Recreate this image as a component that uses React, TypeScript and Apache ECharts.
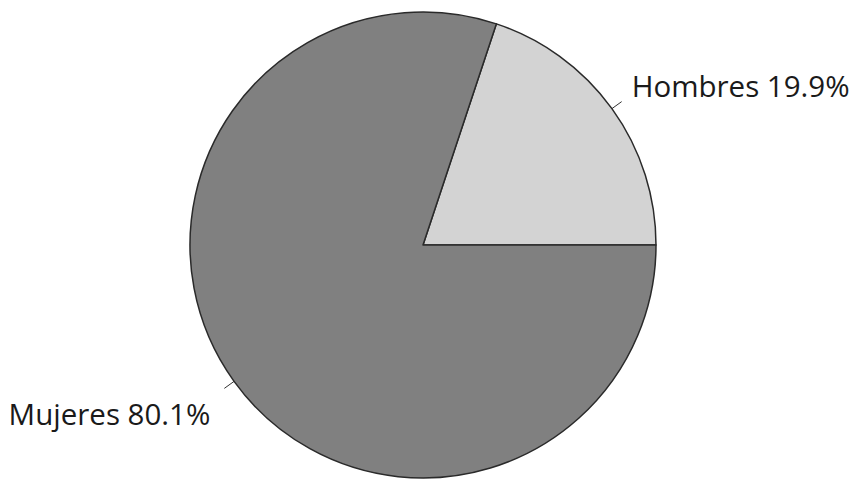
import React, { useEffect, useRef } from "react";
import * as echarts from "echarts";

const categories = ["Hombres", "Mujeres"];
const values = [19.9, 80.1];
const colors = ["#d3d3d3", "#808080"];

export default function App() {
  const ref = useRef<HTMLDivElement>(null);
  useEffect(() => {
    if (!ref.current) return;
    const chart = echarts.init(ref.current, null, { renderer: "svg" });
    const gaps = [10, 14];
    chart.setOption({
      animation: false,
      backgroundColor: "#ffffff",
      series: [
        {
          type: "pie",
          center: [423, 245],
          radius: 233,
          startAngle: 0,
          clockwise: false,
          avoidLabelOverlap: false,
          itemStyle: { borderColor: "#2a2a2a", borderWidth: 1.5 },
          label: {
            show: true,
            position: "outside",
            fontFamily: "Open Sans",
            fontSize: 29.5,
            color: "#1a1a1a",
            distanceToLabelLine: 10,
            formatter: (p: any) => {
              const t = `{t|${p.name} ${p.value.toFixed(1)}%}`;
              return p.dataIndex === 0 ? `${t}\n{up| }` : `{dn| }\n${t}`;
            },
            rich: {
              t: { fontFamily: "Open Sans", fontSize: 29.5, color: "#1a1a1a", lineHeight: 40 },
              up: { fontSize: 10, lineHeight: 32 },
              dn: { fontSize: 10, lineHeight: 50 },
            },
          },
          labelLine: {
            show: true,
            length: 12,
            length2: 0,
            lineStyle: { color: "#333", width: 1 },
          },
          data: categories.map((c, i) => ({
            name: c,
            value: values[i],
            itemStyle: { color: colors[i] },
            label: { distanceToLabelLine: gaps[i] },
          })),
        },
      ],
    });
    return () => chart.dispose();
  }, []);
  return (
    <div
      ref={ref}
      style={{ position: "absolute", left: 0, top: 0, width: 854, height: 479 }}
    />
  );
}
